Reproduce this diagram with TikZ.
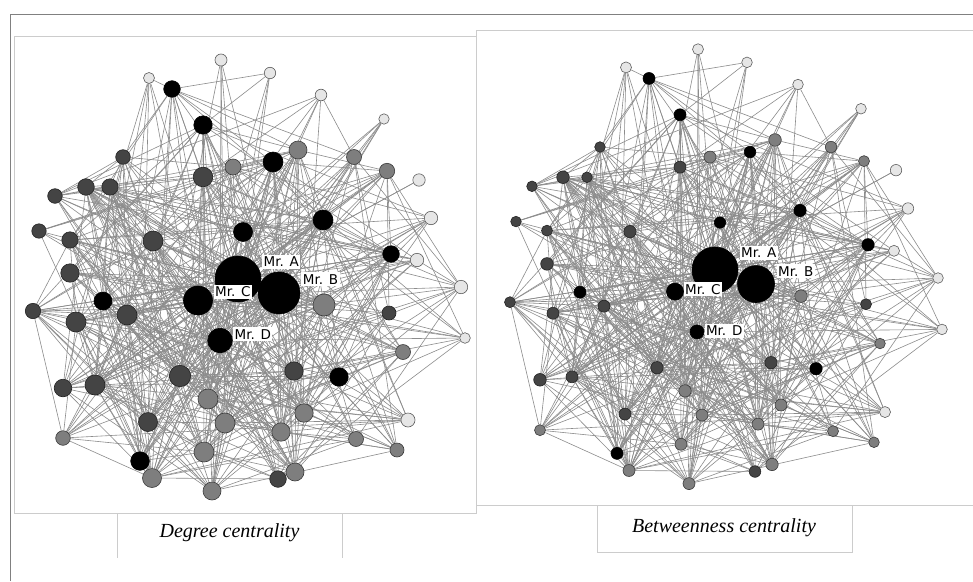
\documentclass[tikz,border=0pt]{standalone}
\usepackage{fontspec}
\newfontfamily\labelfont{DejaVu Sans}
\newfontfamily\captionfont{Liberation Serif}

\pgfdeclarelayer{bg}
\pgfdeclarelayer{edges}
\pgfsetlayers{bg,edges,main}

% vertex shades: light, mid gray, dark gray, black
\definecolor{vfillL}{HTML}{E6E6E6}\definecolor{vdrawL}{HTML}{5E5E5E}
\definecolor{vfillM}{HTML}{7E7E7E}\definecolor{vdrawM}{HTML}{3A3A3A}
\definecolor{vfillD}{HTML}{444444}\definecolor{vdrawD}{HTML}{222222}
\definecolor{vfillK}{HTML}{000000}\definecolor{vdrawK}{HTML}{000000}

\tikzset{
  vtx/.style={circle, inner sep=0pt, line width=0.6pt, fill=vfill#1, draw=vdraw#1},
  link/.style={draw=black!45, line width=0.6pt},
  mr/.style={fill=white, inner xsep=1.5pt, inner ysep=2pt,
             font=\labelfont\fontsize{13.5}{13.5}\selectfont},
  frame/.style={draw=black!20, line width=0.8pt},
  outer/.style={draw=black!50, line width=0.9pt},
  captext/.style={font=\captionfont\itshape\fontsize{20}{20}\selectfont,
              anchor=base, inner sep=0pt},
}

% index / x / y / shade / radius (degree panel) / radius (betweenness panel)
\newcommand\vertexdata{%
1/149/78/L/5.5/5.5, 2/221/60/L/6/5.5, 3/172/89/K/8.3/6, 4/203/125/K/9.2/6,
5/123/157/D/7.3/5.3, 6/203/177/D/9.8/6, 7/233/167/M/8/6, 8/86/187/D/8.3/6.3,
9/110/187/D/8.2/5.3, 10/55/196/D/7.3/5.3, 11/39/231/D/7.2/5.3, 12/70/240/D/8.2/5.5,
13/153/241/D/10/6.2, 14/243/232/K/9.5/5.7, 15/70/273/D/9.2/6.3, 16/270/73/L/5.7/5.3,
17/321/95/L/5.8/5.3, 18/384/119/L/5.2/5.3, 19/298/150/M/9/6.3, 20/273/162/K/10/5.8,
21/354/157/M/7.5/5.7, 22/387/171/M/7.7/5.5, 23/419/180/L/6.2/5.7, 24/323/220/K/10/6.2,
25/431/218/L/6.7/5.7, 26/391/254/K/8.3/6.2, 27/417/260/L/6.7/5.5, 28/238/279/K/23/23,
29/279/293/K/21/18.5, 30/324/305/M/11/6.3, 31/461/287/L/6.7/5.3, 32/389/313/D/7/5.5,
33/465/338/L/5.3/5.3, 34/403/352/M/7.5/5.3, 35/294/371/D/9.2/6.2, 36/339/377/K/9.2/6.2,
37/304/413/M/9.2/6, 38/408/420/L/7/5.5, 39/281/432/M/9.2/6, 40/356/439/M/7.5/5.5,
41/397/450/M/7/5.3, 42/295/472/M/9/6.2, 43/278/479/D/8.3/5.8, 44/103/301/K/9/6,
45/33/311/D/7.7/5.5, 46/76/322/D/10/6, 47/127/315/D/10/6, 48/198/300.5/K/14.5/8.5,
49/220/340.5/K/12.3/7, 50/180/376/D/10.7/6.2, 51/63/388/D/8.8/6.3, 52/95/385/D/10/6,
53/208/399/M/10/6.2, 54/148/422/D/9.5/6, 55/225/423/M/10/6, 56/63/438/M/7.3/5.5,
57/204/452/M/10/6, 58/140/461/K/9.3/6, 59/152/478/M/9.5/6, 60/212/491/M/9/6}

\begin{document}
\begin{tikzpicture}[x=1pt, y=-1pt]
\useasboundingbox (0,0) rectangle (973,581);
\begin{pgfonlayer}{bg}
  \fill[white] (0,0) rectangle (973,581);
\end{pgfonlayer}

% degree centrality panel
\foreach \n/\x/\y/\c/\rl/\rr in \vertexdata {
  \node[vtx=\c, minimum size={2*\rl pt}] (a\n) at (\x,\y) {};
  \expandafter\xdef\csname vw\n\endcsname{\rl}
}
% betweenness centrality panel: same layout, other sizes
\begin{scope}[shift={(477,-11.2)}, yscale=1.0077]
\foreach \n/\x/\y/\c/\rl/\rr in \vertexdata {
  \node[vtx=\c, minimum size={2*\rr pt}] (b\n) at (\x,\y) {};
}
\end{scope}

% links: the same graph in both panels
\pgfmathsetseed{2718}
\begin{pgfonlayer}{edges}
\foreach \i in {1,...,59}{
  \pgfmathtruncatemacro\ip{\i+1}
  \foreach \j in {\ip,...,60}{
    \edef\wi{\csname vw\i\endcsname}\edef\wj{\csname vw\j\endcsname}
    \pgfmathsetmacro\pr{(\wi-3.3)*(\wj-3.3)/105}
    \pgfmathsetmacro\u{rnd}
    \ifdim\u pt<\pr pt
      \draw[link] (a\i) -- (a\j);
      \draw[link] (b\i) -- (b\j);
    \fi
  }
}
\end{pgfonlayer}

% name tags
\node[mr] (tagA1) at (281.3,262) {Mr. A};
\node[mr] (tagB1) at (320.5,279.2) {Mr. B};
\node[mr] (tagC1) at (232.8,291.8) {Mr. C};
\node[mr] (tagD1) at (252.8,334.2) {Mr. D};
\node[mr] (tagA2) at (758.8,253) {Mr. A};
\node[mr] (tagB2) at (795.8,271.2) {Mr. B};
\node[mr] (tagC2) at (702.8,289.2) {Mr. C};
\node[mr] (tagD2) at (724.2,330.8) {Mr. D};

% frames
\draw[outer] (10,581) -- (10,14) -- (973,14);
\draw[frame] (14,36.5) rectangle (476,513);
\draw[frame] (117.5,513) -- (117.5,558);
\draw[frame] (342,513) -- (342,558);
\draw[frame] (973,30) -- (476.5,30) -- (476.5,505.5) -- (973,505.5);
\draw[frame] (597,505.5) -- (597,552) -- (852,552) -- (852,505.5);

% captions
\node[captext] (capL) at (229.5,537.3) {Degree centrality};
\node[captext] (capR) at (724,532) {Betweenness centrality};
\end{tikzpicture}
\end{document}
